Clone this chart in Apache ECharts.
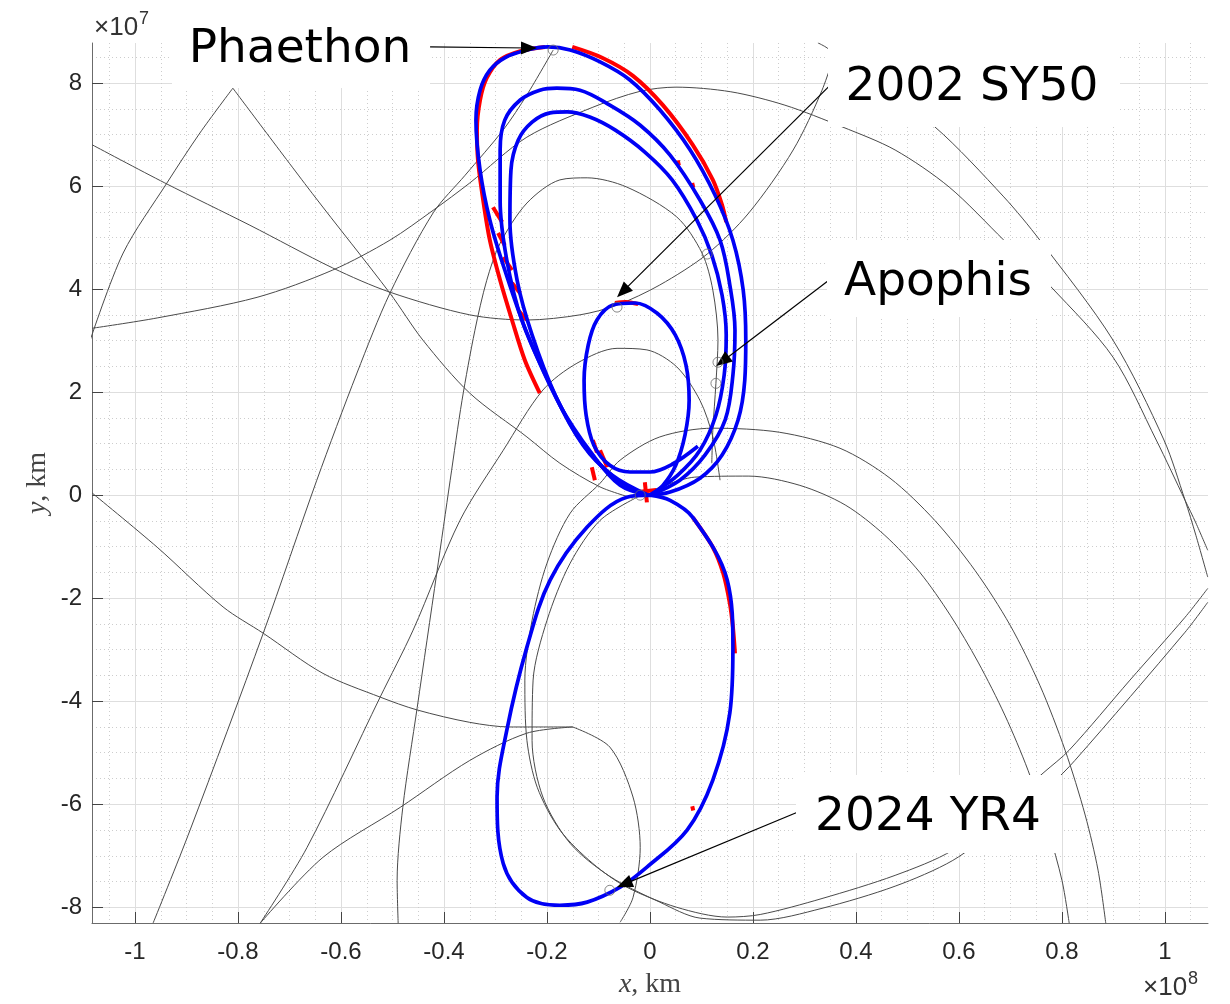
<!DOCTYPE html>
<html><head><meta charset="utf-8">
<script src="https://cdn.jsdelivr.net/npm/echarts@6/dist/echarts.min.js"></script>
<style>html,body{margin:0;padding:0;background:#fff}#c{width:1230px;height:1004px}</style>
</head><body><div id="c"></div>
<script>
// all coordinates in units of 1e7 km
const xTicks = [-10,-8,-6,-4,-2,0,2,4,6,8,10];
const xTickLabels = ['-1','-0.8','-0.6','-0.4','-0.2','0','0.2','0.4','0.6','0.8','1'];
const yTicks = [-8,-6,-4,-2,0,2,4,6,8];
const yTickLabels = ['-8','-6','-4','-2','0','2','4','6','8'];
const xRange = [-10.835, 10.835];
const yRange = [-8.305, 8.777];

// blue transfer trajectories
const blueLoop1 = [[-0.04,0],[-0.58,0.19],[-1.11,0.78],[-1.75,1.75],[-2.39,3.15],[-2.82,4.37],[-3.11,5.34],[-3.30,6.31],[-3.38,7.28],[-3.30,7.86],[-3.11,8.25],[-2.82,8.49],[-2.39,8.64],[-1.98,8.70],[-1.55,8.64],[-0.97,8.41],[-0.39,8.06],[0.19,7.48],[0.78,6.70],[1.26,5.83],[1.61,4.95],[1.81,3.98],[1.86,3.01],[1.84,2.23],[1.71,1.46],[1.40,0.78],[0.97,0.33],[0.39,0.06],[-0.04,0]];
const blueLoop2 = [[-0.04,0],[-0.68,0.33],[-1.36,1.07],[-1.98,2.23],[-2.49,3.40],[-2.78,4.56],[-2.91,5.73],[-2.91,6.70],[-2.82,7.28],[-2.52,7.67],[-2.14,7.86],[-1.81,7.90],[-1.36,7.86],[-0.78,7.57],[-0.19,7.18],[0.39,6.60],[0.97,5.73],[1.36,4.95],[1.55,4.08],[1.65,3.20],[1.61,2.33],[1.46,1.46],[1.07,0.78],[0.58,0.29],[0,0]];
const blueLoop3 = [[-0.04,0],[-0.74,0.39],[-1.30,0.97],[-1.84,1.94],[-2.29,3.11],[-2.58,4.17],[-2.72,5.34],[-2.70,6.31],[-2.56,6.89],[-2.29,7.24],[-1.94,7.42],[-1.61,7.44],[-1.17,7.34],[-0.68,7.09],[-0.10,6.66],[0.43,6.12],[0.91,5.34],[1.20,4.66],[1.40,3.88],[1.48,3.11],[1.44,2.33],[1.28,1.55],[0.97,0.87],[0.54,0.39],[0,0]];
const blueLoopSY50 = [[0,0],[0.25,0.19],[0.50,0.58],[0.68,1.17],[0.76,1.84],[0.70,2.52],[0.49,3.11],[0.14,3.53],[-0.29,3.73],[-0.72,3.69],[-1.03,3.40],[-1.20,2.91],[-1.28,2.23],[-1.24,1.55],[-1.09,0.97],[-0.78,0.58],[-0.39,0.45],[0,0.45],[0.43,0.60],[0.93,0.95]];
const blueLoopYR4 = [[0,0],[-0.45,-0.04],[-1.22,-0.62],[-1.94,-1.65],[-2.39,-2.95],[-2.78,-4.56],[-2.97,-5.86],[-2.85,-7.15],[-2.39,-7.81],[-1.75,-7.96],[-1.22,-7.90],[-0.58,-7.61],[-0.06,-7.22],[0.72,-6.50],[1.22,-5.53],[1.55,-4.23],[1.61,-2.95],[1.50,-1.65],[0.83,-0.43],[0.39,-0.10],[0,0]];

// red perturbed samples
const redSegments = [
  [[-2.04,8.70],[-2.52,8.62],[-2.91,8.45],[-3.17,8.10],[-3.30,7.67],[-3.36,7.09],[-3.34,6.50],[-3.24,5.73],[-3.11,4.95],[-2.91,4.17],[-2.68,3.40],[-2.43,2.62],[-2.14,1.98]],
  [[-3.05,5.59],[-2.87,5.30]],
  [[-2.95,5.09],[-2.82,4.85]],
  [[-2.85,4.62],[-2.68,4.37]],
  [[-2.68,4.12],[-2.52,3.92]],
  [[-2.56,3.59],[-2.39,3.40]],
  [[-1.51,8.70],[-0.93,8.49],[-0.33,8.14],[0.25,7.57],[0.83,6.80],[1.22,6.12],[1.40,5.63],[1.48,5.30]],
  [[0.54,6.50],[0.56,6.40]],
  [[0.82,6.06],[0.84,5.97]],
  [[-0.68,3.73],[-0.47,3.75],[-0.23,3.71]],
  [[-1.11,1.07],[-1.03,0.83]],
  [[-0.97,0.87],[-0.83,0.54]],
  [[-1.13,0.54],[-1.07,0.29]],
  [[-0.10,0.25],[-0.06,-0.14]],
  [[-0.23,0.06],[0.12,0.10]],
  [[0.83,-0.43],[1.22,-1.01],[1.42,-1.51],[1.55,-2.10],[1.61,-2.56],[1.65,-3.07]],
  [[0.82,-6.04],[0.84,-6.12]]
];

// grey background orbits
const greyCurves = [
  [[-10.83,6.80],[-9.42,6.06],[-7.77,5.24],[-6.16,4.41],[-5.05,3.94],[-3.50,3.50],[-2.39,3.40],[-1.36,3.50],[-0.64,3.69],[0.19,4.08],[1.11,4.68],[1.92,5.48],[2.78,6.70],[3.34,7.86],[3.65,8.78]],
  [[-10.87,3.01],[-10.23,4.70],[-9.38,6.06],[-8.74,7.03],[-8.10,7.90]],
  [[-8.10,7.90],[-6.56,5.86],[-5.05,3.92],[-4.41,3.01],[-3.50,1.98],[-2.39,1.13],[-1.75,0.62],[-0.97,0.16],[-0.33,-0.06]],
  [[-10.83,3.24],[-9.57,3.44],[-7.63,3.84],[-6.16,4.37],[-5.05,4.95],[-4.21,5.53],[-3.50,6.06],[-2.39,6.95],[-1.11,7.53],[-0.19,7.84],[0.50,7.92],[1.57,7.83],[2.62,7.57],[3.73,7.15],[4.76,6.70],[5.81,5.98],[6.87,4.95],[7.79,4.04],[8.99,2.68],[9.83,1.07],[10.39,-0.10],[10.60,-0.54],[10.83,-1.07]],
  [[3.26,8.78],[3.44,8.68],[4.47,7.86],[5.53,7.15],[6.87,5.79],[7.57,4.95],[8.99,3.01],[9.98,1.07],[10.39,-0.10],[10.60,-0.78],[10.83,-1.59]],
  [[-9.65,-8.31],[-8.93,-6.50],[-7.51,-2.68],[-6.47,0.29],[-5.69,2.37],[-5.05,3.92],[-4.21,5.48],[-3.59,6.21],[-2.85,7.09],[-2.39,7.77],[-1.88,8.64]],
  [[-10.83,0.04],[-9.57,-1.01],[-8.29,-2.17],[-7.51,-2.68],[-6.35,-3.46],[-5.24,-3.92],[-4.52,-4.17],[-3.50,-4.41],[-2.72,-4.50],[-1.50,-4.50]],
  [[-1.50,-4.50],[-0.78,-4.89],[-0.33,-5.86],[-0.19,-6.84],[-0.33,-7.81],[-0.58,-8.29]],
  [[-7.57,-8.31],[-6.35,-7.03],[-4.85,-6.06],[-3.50,-5.15],[-2.39,-4.62],[-1.50,-4.50]],
  [[-4.89,-8.31],[-4.91,-7.48],[-4.80,-6.06],[-4.52,-4.12],[-4.14,-1.51],[-3.88,0.29],[-3.65,1.84],[-3.40,3.20],[-3.17,4.17],[-2.91,4.89],[-2.39,5.67],[-1.75,6.12],[-1.22,6.16],[-0.45,5.98],[0.52,5.40],[1.01,4.70],[1.22,3.98],[1.32,3.01],[1.28,2.17],[1.22,1.26],[1.20,0.62]],
  [[-7.57,-8.31],[-6.66,-6.84],[-5.24,-3.92],[-4.60,-2.62],[-3.69,-0.49],[-2.85,0.87],[-2.08,2.04],[-1.42,2.56],[-0.64,2.85],[-0.06,2.82],[0.52,2.49],[0.97,1.84],[1.22,1.13],[1.36,0.29]],
  [[10.83,-1.81],[10.39,-2.37],[9.32,-3.59],[8.14,-4.95],[7.65,-5.38],[6.80,-6.12],[5.88,-6.89],[4.76,-7.38],[3.34,-7.83],[2.14,-8.14],[1.50,-8.19],[0.52,-8.00],[-0.45,-7.61],[-1.11,-7.15],[-1.75,-6.50],[-2.19,-5.67],[-2.39,-4.76],[-2.43,-3.59],[-2.29,-2.43],[-2.00,-1.32],[-1.55,-0.35],[-0.97,0.23],[-0.58,0.68],[0.19,1.13],[1.22,1.30],[2.52,1.22],[3.69,0.91],[4.66,0.33],[5.53,-0.49],[6.31,-1.46],[6.99,-2.52],[7.57,-3.69],[8.06,-4.95],[8.45,-6.21],[8.70,-7.28],[8.85,-8.31]],
  [[10.83,-2.08],[10.39,-2.66],[8.25,-5.15],[7.77,-5.63],[6.80,-6.41],[5.88,-7.09],[4.76,-7.59],[3.34,-8.02],[2.14,-8.25],[0.97,-8.21],[0.19,-7.90],[-0.78,-7.40],[-1.55,-6.76],[-2.08,-5.86],[-2.29,-4.76],[-2.27,-3.59],[-2.00,-2.43],[-1.55,-1.32],[-0.97,-0.49],[-0.25,-0.04]],
  [[-0.25,-0.04],[0.87,0.35],[1.92,0.37],[2.91,0.19],[3.79,-0.19],[4.56,-0.78],[5.24,-1.50],[5.83,-2.33],[6.37,-3.24],[6.89,-4.27],[7.34,-5.34],[7.73,-6.50],[8.00,-7.48],[8.14,-8.31]]
];

// encounter markers
const markerPoints = [[-1.88,8.64],[1.11,4.68],[-0.64,3.65],[1.32,2.58],[1.28,2.17],[-0.78,-7.67],[-0.19,0]];

// annotations
const annotationLabels = ['Phaethon','2002 SY50','Apophis','2024 YR4'];
const arrowFrom = [[-4.27,8.70],[3.48,7.94],[3.46,4.16],[2.85,-6.16]];
const arrowTo = [[-2.35,8.68],[-0.53,3.95],[1.41,2.60],[-0.50,-7.55]];

function labelFor(ticks, labels, v) {
  const i = ticks.findIndex(t => Math.abs(t - v) < 1e-6);
  return i >= 0 ? labels[i] : '';
}

const series = [];
greyCurves.forEach(c => series.push({type:'line', data:c, showSymbol:false, smooth:0.3, silent:true,
  lineStyle:{color:'#4a4a4a', width:1}, z:2}));
redSegments.forEach(c => series.push({type:'line', data:c, showSymbol:false, smooth:0.3, silent:true,
  lineStyle:{color:'#ff0000', width:4}, z:3}));
[blueLoop1, blueLoop2, blueLoop3, blueLoopSY50, blueLoopYR4].forEach(c => series.push({type:'line', data:c,
  showSymbol:false, smooth:0.35, silent:true, lineStyle:{color:'#0000f5', width:3.7}, z:4}));
series.push({type:'scatter', data:markerPoints, symbol:'circle', symbolSize:10, silent:true, z:5,
  itemStyle:{color:'rgba(0,0,0,0)', borderColor:'#6a6a6a', borderWidth:1}});
series.push({type:'line', data:[], z:6, silent:true,
  markLine:{silent:true, animation:false, symbol:['none','triangle'], symbolSize:16,
    label:{show:false}, lineStyle:{color:'#000', width:1.2, type:'solid'},
    emphasis:{disabled:true},
    data: arrowFrom.map((f,i)=>[
      {coord:f, symbol:'none'},
      {coord:arrowTo[i], symbol:'triangle', symbolSize:[13,16], itemStyle:{color:'#000'}}
    ])}});

const boxes = [
  {x:172, y:0, w:258, h:88, cx:300, cy:50},
  {x:828, y:30, w:292, h:97, cx:972, cy:88},
  {x:827, y:240, w:224, h:77, cx:938, cy:283},
  {x:796, y:775, w:266, h:78, cx:928, cy:818}
];
const graphic = [];
boxes.forEach((b,i) => {
  graphic.push({type:'rect', z:100, silent:true, shape:{x:b.x, y:b.y, width:b.w, height:b.h}, style:{fill:'#fff'}});
  graphic.push({type:'text', z:101, silent:true, style:{x:b.cx, y:b.cy, text:annotationLabels[i],
    font:'47px "DejaVu Sans"', fill:'#000', textAlign:'center', textVerticalAlign:'middle'}});
});
graphic.push({type:'text', z:101, silent:true, style:{x:94, y:41, text:'×10', font:'26px "Liberation Sans"', fill:'#333', textVerticalAlign:'bottom'}});
graphic.push({type:'text', z:101, silent:true, style:{x:139, y:28, text:'7', font:'18px "Liberation Sans"', fill:'#333', textVerticalAlign:'bottom'}});
graphic.push({type:'text', z:101, silent:true, style:{x:1143, y:1001, text:'×10', font:'26px "Liberation Sans"', fill:'#333', textVerticalAlign:'bottom'}});
graphic.push({type:'text', z:101, silent:true, style:{x:1188, y:988, text:'8', font:'18px "Liberation Sans"', fill:'#333', textVerticalAlign:'bottom'}});
graphic.push({type:'text', z:101, silent:true, style:{x:650, y:985, text:'{i|x}{n|, km}', textAlign:'center', textVerticalAlign:'middle',
  rich:{i:{font:'italic 28px "Liberation Serif"', fill:'#444'}, n:{font:'28px "Liberation Serif"', fill:'#444'}}}});
graphic.push({type:'text', z:101, silent:true, rotation:Math.PI/2, x:38, y:483, style:{x:0, y:0, text:'{i|y}{n|, km}', textAlign:'center', textVerticalAlign:'middle',
  rich:{i:{font:'italic 28px "Liberation Serif"', fill:'#444'}, n:{font:'28px "Liberation Serif"', fill:'#444'}}}});

const axisCommon = {
  type:'value',
  axisLine:{show:true, onZero:false, lineStyle:{color:'#6b6b6b', width:1}},
  splitLine:{show:true, lineStyle:{color:'#dedede', width:1}},
  minorTick:{show:false, splitNumber:4},
  minorSplitLine:{show:true, lineStyle:{color:'#cdcdcd', width:1, type:[1,3]}}
};

const chart = echarts.init(document.getElementById('c'));
chart.setOption({
  animation:false,
  backgroundColor:'#fff',
  grid:{left:92, right:22, top:43, bottom:81, containLabel:false},
  xAxis: Object.assign({}, axisCommon, {min:xRange[0], max:xRange[1], splitNumber:11,
    axisTick:{show:true, inside:true, length:11, customValues:xTicks, lineStyle:{color:'#444'}},
    axisLabel:{customValues:xTicks, formatter:v=>labelFor(xTicks,xTickLabels,v), margin:17,
      fontFamily:'Liberation Sans', fontSize:24, color:'#262626'}}),
  yAxis: Object.assign({}, axisCommon, {min:yRange[0], max:yRange[1], splitNumber:8,
    axisTick:{show:true, inside:true, length:11, customValues:yTicks, lineStyle:{color:'#444'}},
    axisLabel:{customValues:yTicks, formatter:v=>labelFor(yTicks,yTickLabels,v), margin:10,
      fontFamily:'Liberation Sans', fontSize:24, color:'#262626'}}),
  series: series,
  graphic: graphic
});
</script></body></html>
